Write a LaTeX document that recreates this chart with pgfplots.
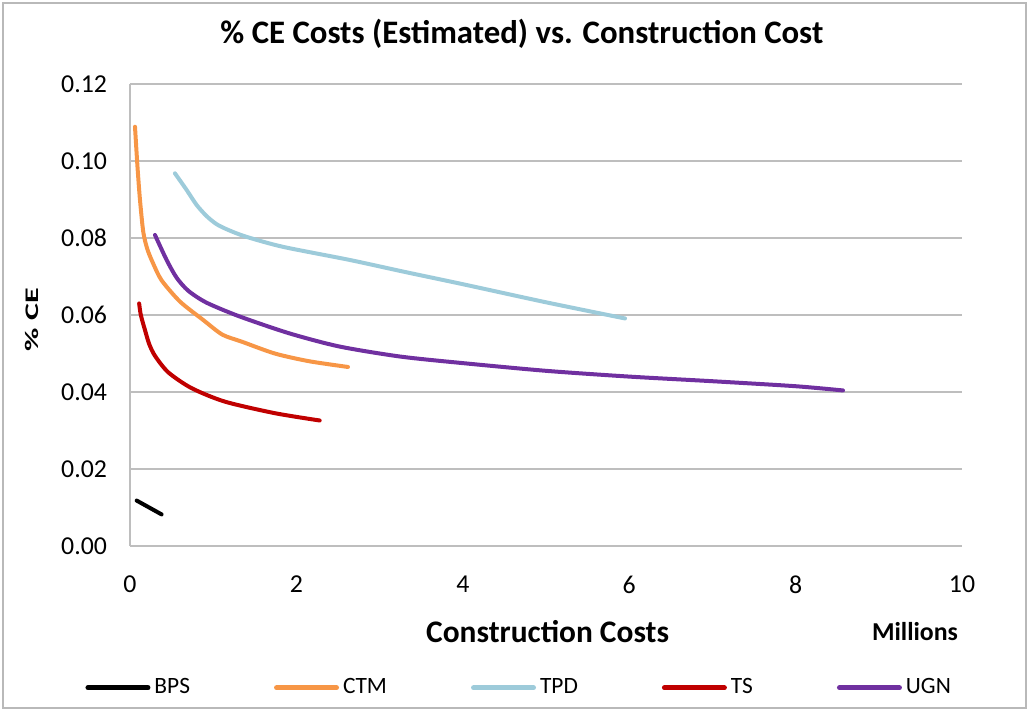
\documentclass[border=0pt]{standalone}
\usepackage{pgfplots}
\pgfplotsset{compat=1.18}
\usepackage{fontspec}
\setmainfont{Carlito}

\definecolor{bps}{HTML}{000000}
\definecolor{ctm}{HTML}{F79646}
\definecolor{tpd}{HTML}{9DCBDA}
\definecolor{ts}{HTML}{C00000}
\definecolor{ugn}{HTML}{7030A0}
\definecolor{gridgray}{HTML}{BEBEBE}

\begin{document}
\begin{tikzpicture}
\useasboundingbox (-65pt,-82.5pt) rectangle (449.5pt,273pt);
\draw[gray!55, line width=1pt] (-63.5pt,-81pt) rectangle (448pt,271.5pt);
\begin{axis}[
    at={(0,0)}, anchor=south west,
    scale only axis,
    width=416pt, height=231pt,
    xmin=0, xmax=10, ymin=0, ymax=0.12,
    xtick={0,2,...,10},
    ytick={0,0.02,...,0.12},
    axis x line*=bottom, axis y line*=left,
    axis line style={gridgray, line width=1pt, -},
    ymajorgrids,
    grid style={gridgray, line width=1pt},
    major tick length=0pt,
    clip mode=individual,
    tick label style={font=\fontsize{12.9}{15}\selectfont},
    /pgf/number format/assume math mode=true,
    yticklabel style={/pgf/number format/fixed, /pgf/number format/fixed zerofill,
                      /pgf/number format/precision=2, xshift=-8pt},
    xticklabel style={yshift=-11.5pt},
    title={\% CE Costs (Estimated) vs. Construction Cost},
    title style={at={(axis description cs:0.471,1)}, anchor=center, yshift=19pt,
                 font=\bfseries\fontsize{16.4}{19}\selectfont},
    xlabel={Construction Costs},
    xlabel style={at={(axis description cs:0.502,0)}, anchor=center, yshift=-43pt,
                  font=\bfseries\fontsize{15.7}{18}\selectfont},
    ylabel={\scalebox{1}[0.6]{\% CE}},
    ylabel style={at={(axis description cs:-0.118,0.49)}, anchor=center,
                  font=\bfseries\fontsize{16}{18}\selectfont},
    legend columns=5,
    legend style={at={(axis description cs:-0.054,-0.307)}, anchor=west, draw=none,
                  fill=none, font=\fontsize{11.7}{14}\selectfont,
                  /tikz/every even column/.append style={column sep=40pt},
                  inner sep=0pt},
    legend image code/.code={\draw[#1, line width=2.5pt] (0pt,0pt) -- (30pt,0pt);},
    every axis plot/.append style={line width=2pt, no markers, smooth, tension=0.45,
                                   line cap=round},
]
\addplot[bps] coordinates {(0.08,0.0118) (0.38,0.0082)};
\addlegendentry{BPS}
\addplot[ctm] coordinates {
    (0.06,0.1089) (0.09,0.0985) (0.12,0.0899) (0.16,0.0815) (0.21,0.0770)
    (0.28,0.0733) (0.38,0.0690) (0.60,0.0635) (0.88,0.0587) (1.11,0.0549)
    (1.34,0.0531) (1.74,0.0500) (2.15,0.0480) (2.62,0.0465)};
\addlegendentry{CTM}
\addplot[tpd] coordinates {
    (0.54,0.0968) (0.68,0.0925) (0.80,0.0886) (0.92,0.0857) (1.04,0.0836)
    (1.18,0.0821) (1.40,0.0803) (1.84,0.0777) (2.64,0.0743) (3.3,0.0712)
    (4.0,0.0680) (5.0,0.0633) (5.95,0.0591)};
\addlegendentry{TPD}
\addplot[ts] coordinates {
    (0.11,0.0630) (0.13,0.0600) (0.18,0.0561) (0.23,0.0525) (0.30,0.0494)
    (0.46,0.0451) (0.74,0.0410) (1.14,0.0375) (1.74,0.0345) (2.28,0.0326)};
\addlegendentry{TS}
\addplot[ugn] coordinates {
    (0.30,0.0808) (0.44,0.0743) (0.56,0.0697) (0.70,0.0663) (0.92,0.0632)
    (1.32,0.0596) (1.92,0.0552) (2.52,0.0518) (3.25,0.0492) (4.0,0.0475)
    (5.0,0.0455) (6.0,0.0440) (7.0,0.0428) (8.0,0.0415) (8.57,0.0404)};
\addlegendentry{UGN}
\node[font=\bfseries\fontsize{12.9}{15}\selectfont, anchor=center, yshift=-43pt]
    at (axis description cs:0.9435,0) {Millions};
\end{axis}
\end{tikzpicture}
\end{document}
